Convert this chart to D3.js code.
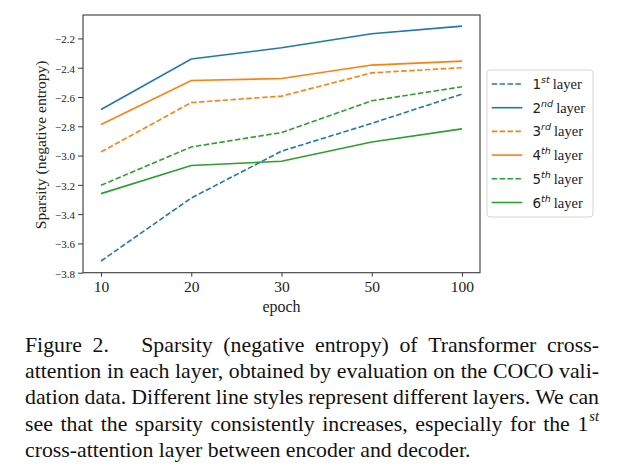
<!DOCTYPE html>
<html>
<head>
<meta charset="utf-8">
<script src="https://cdn.jsdelivr.net/npm/d3@7"></script>
<style>
  html, body { margin: 0; padding: 0; background: #fff; }
  svg { display: block; }
</style>
</head>
<body>
<svg id="chart" width="632" height="472"></svg>
<script>
// ---- data ----
const epochs = ["10", "20", "30", "50", "100"];
const yTicks = [-3.8, -3.6, -3.4, -3.2, -3.0, -2.8, -2.6, -2.4, -2.2];
const layerNums = ["1", "2", "3", "4", "5", "6"];
const layerSups = ["st", "nd", "rd", "th", "th", "th"];
const layer1 = [-3.72, -3.29, -2.97, -2.78, -2.58];
const layer2 = [-2.685, -2.341, -2.264, -2.168, -2.116];
const layer3 = [-2.975, -2.638, -2.594, -2.435, -2.40];
const layer4 = [-2.788, -2.487, -2.474, -2.382, -2.355];
const layer5 = [-3.203, -2.941, -2.843, -2.626, -2.53];
const layer6 = [-3.26, -3.068, -3.039, -2.907, -2.818];
const seriesValues = [layer1, layer2, layer3, layer4, layer5, layer6];
const captionLines = [
  "Figure 2.|Sparsity (negative entropy) of Transformer cross-",
  "attention in each layer, obtained by evaluation on the COCO vali-",
  "dation data. Different line styles represent different layers. We can",
  "see that the sparsity consistently increases, especially for the 1",
  "cross-attention layer between encoder and decoder."
];

// ---- styling ----
const colors = ["#1f77b4", "#1f77b4", "#ff7f0e", "#ff7f0e", "#2ca02c", "#2ca02c"];
const dashed = [true, false, true, false, true, false];
const serif = "'Liberation Serif', 'Times New Roman', serif";
const sans = "'DejaVu Sans', sans-serif";

const svg = d3.select("#chart");
const L = 83, R = 480, T = 15, B = 272.7;

// matplotlib 5% margins: index 0..4 over domain [-0.2, 4.2]
const xLin = d3.scaleLinear().domain([-0.2, 4.2]).range([L, R]);
const y = d3.scaleLinear().domain([-3.8, -2.04]).range([B, T]);

// lines
const line = d3.line().x((d, i) => xLin(i)).y(d => y(d));
seriesValues.forEach((vals, k) => {
  svg.append("path")
    .attr("d", line(vals))
    .attr("fill", "none")
    .attr("stroke", colors[k])
    .attr("stroke-width", 1.6)
    .attr("stroke-dasharray", dashed[k] ? "5.5,2.4" : null)
    .attr("stroke-linecap", "butt");
});

// frame
svg.append("rect")
  .attr("x", L).attr("y", T).attr("width", R - L).attr("height", B - T)
  .attr("fill", "none").attr("stroke", "#3a3a3a").attr("stroke-width", 1.1);

// x axis
const xAxisScale = d3.scaleOrdinal().domain(epochs).range(epochs.map((e, i) => xLin(i)));
const xAxis = d3.axisBottom(xAxisScale).tickSize(4).tickPadding(4);
const gx = svg.append("g").attr("transform", `translate(0,${B})`).call(xAxis);
gx.select(".domain").remove();
gx.selectAll(".tick line").attr("stroke", "#3a3a3a").attr("stroke-width", 1);
gx.selectAll(".tick text").attr("font-family", serif).attr("font-size", 15.5)
  .attr("fill", "#222").attr("dy", "0.72em");

// y axis
const yAxis = d3.axisLeft(y).tickValues(yTicks).tickSize(5).tickPadding(3)
  .tickFormat(d => d3.format(".1f")(d).replace("-", "\u2212"));
const gy = svg.append("g").attr("transform", `translate(${L},0)`).call(yAxis);
gy.select(".domain").remove();
gy.selectAll(".tick line").attr("stroke", "#3a3a3a").attr("stroke-width", 1);
gy.selectAll(".tick text").attr("font-family", serif).attr("font-size", 11)
  .attr("fill", "#222").attr("dy", "0.4em");

// axis labels
svg.append("text").attr("x", (L + R) / 2).attr("y", 311.5)
  .attr("text-anchor", "middle").attr("font-family", serif).attr("font-size", 16)
  .attr("fill", "#222").text("epoch");
svg.append("text")
  .attr("transform", `translate(45.5,${(T + B) / 2 + 1}) rotate(-90)`)
  .attr("text-anchor", "middle").attr("font-family", serif).attr("font-size", 15.5)
  .attr("fill", "#222").text("Sparsity (negative entropy)");

// legend
const lg = svg.append("g");
lg.append("rect").attr("x", 487).attr("y", 70).attr("width", 106).attr("height", 147)
  .attr("rx", 3).attr("fill", "#fff").attr("fill-opacity", 0.8)
  .attr("stroke", "#d6d6d6").attr("stroke-width", 1);
layerNums.forEach((n, k) => {
  const cy = 84 + k * 23.7;
  lg.append("line").attr("x1", 491.7).attr("x2", 522.3).attr("y1", cy).attr("y2", cy)
    .attr("stroke", colors[k]).attr("stroke-width", 1.6)
    .attr("stroke-dasharray", dashed[k] ? "5.5,2.4" : null);
  const t = lg.append("text").attr("x", 532.5).attr("y", cy + 5).attr("fill", "#222");
  t.append("tspan").attr("font-family", sans).attr("font-size", 13.5).text(n);
  t.append("tspan").attr("font-family", sans).attr("font-style", "italic")
    .attr("font-size", 9.5).attr("dy", -6).text(layerSups[k]);
  t.append("tspan").attr("font-family", serif).attr("font-size", 14.5)
    .attr("dy", 6).attr("dx", 3).text("layer");
});

// caption (justified)
const capL = 25, capR = 599, capSize = 21.8;
const baselines = [351.5, 378, 404.3, 430.6, 457];
const cap = svg.append("g").attr("font-family", serif).attr("font-size", capSize).attr("fill", "#111");
captionLines.forEach((ln, li) => {
  const words = ln.replace("|", " | ").split(" ").filter(w => w.length);
  const nodes = [];
  words.forEach(w => {
    if (w === "|") { nodes.push({ extra: true }); return; }
    const tn = cap.append("text").attr("y", baselines[li]).text(w);
    nodes.push({ node: tn, w: tn.node().getComputedTextLength() });
  });
  // superscript "st" after the final "1" on line 4
  let supW = 0, supNode = null;
  if (li === 3) {
    supNode = cap.append("text").attr("y", baselines[li] - 9.5)
      .attr("font-size", 14.5).attr("font-style", "italic").text("st");
    supW = supNode.node().getComputedTextLength() + 1;
  }
  const wordNodes = nodes.filter(n => !n.extra);
  const total = d3.sum(wordNodes, n => n.w) + supW;
  const extraW = capSize * 1.0;
  const nExtra = nodes.filter(n => n.extra).length;
  const gaps = wordNodes.length - 1;
  const justify = li < captionLines.length - 1;
  const gapW = justify ? (capR - capL - total - nExtra * extraW) / gaps : capSize * 0.25;
  let cx = capL;
  nodes.forEach(n => {
    if (n.extra) { cx += extraW; return; }
    n.node.attr("x", cx);
    cx += n.w + gapW;
  });
  if (supNode) {
    const last = wordNodes[wordNodes.length - 1];
    supNode.attr("x", +last.node.attr("x") + last.w + 1);
  }
});
</script>
</body>
</html>
